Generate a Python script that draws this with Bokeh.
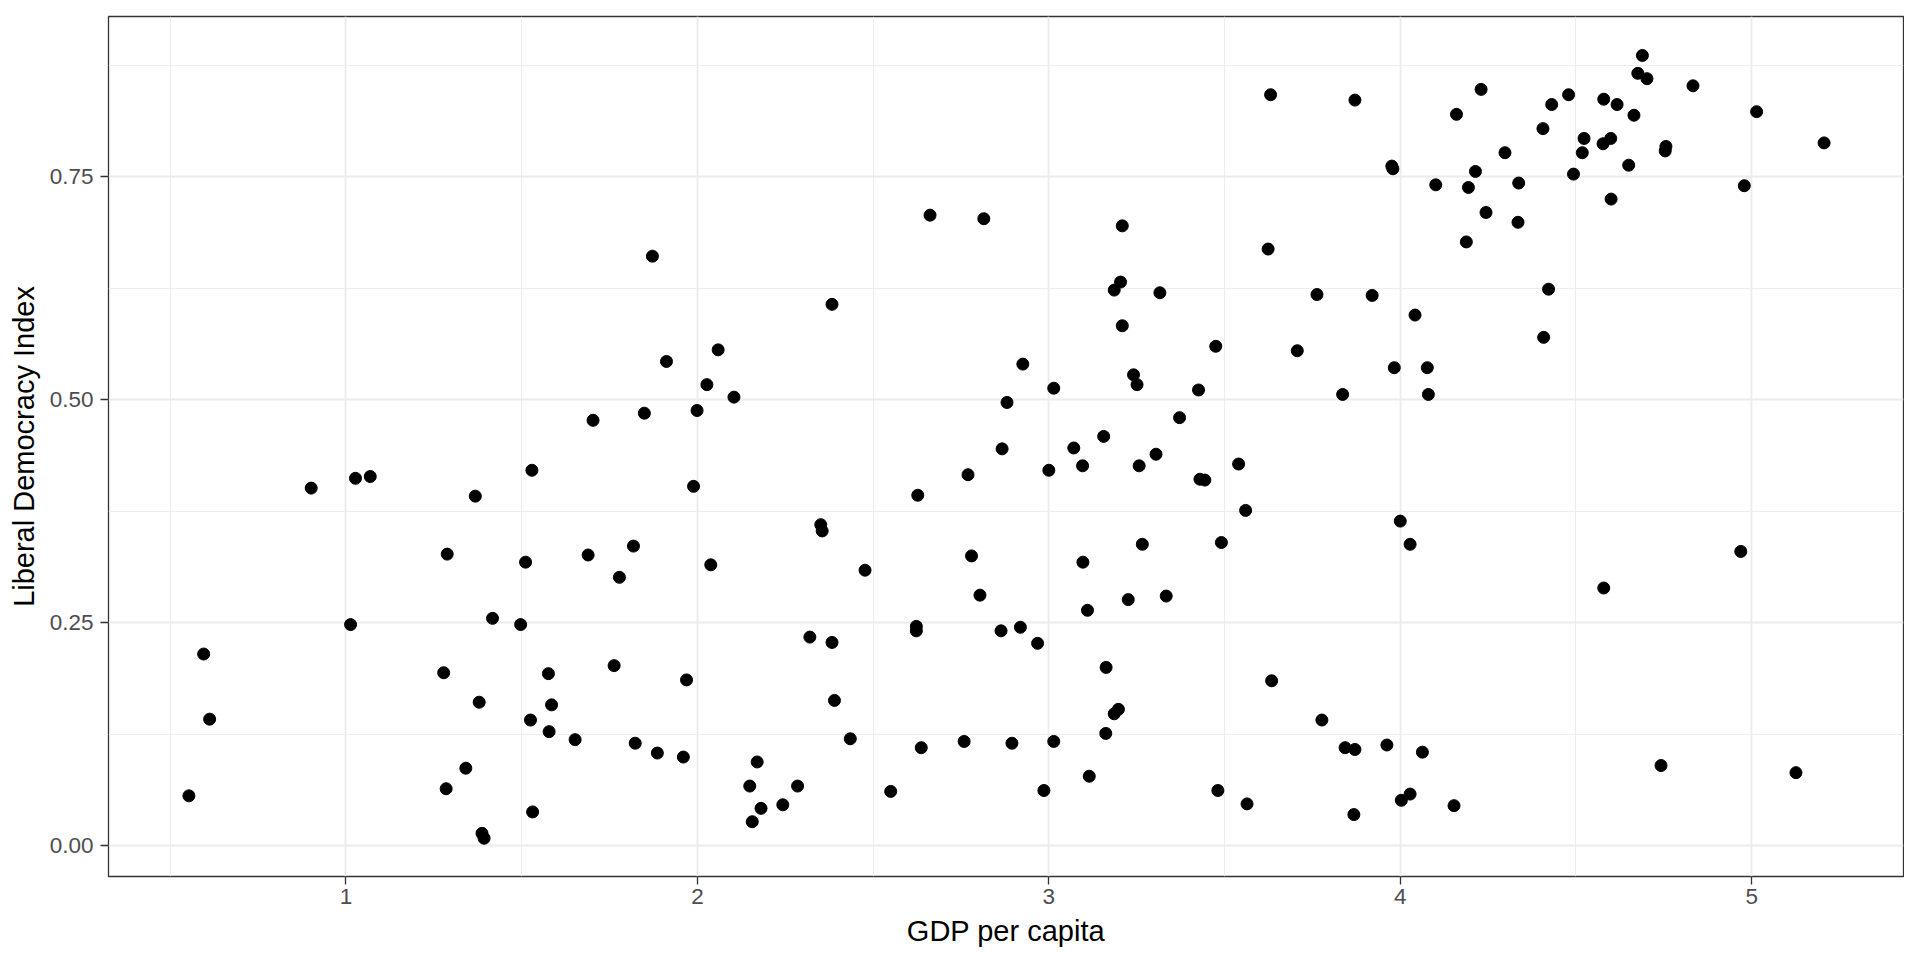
from bokeh.plotting import figure
from bokeh.models import Range1d, FixedTicker
from bokeh.embed import file_html
from bokeh.resources import INLINE

# GDP per capita (x) and Liberal Democracy Index (y)
gdp = [0.553, 0.595, 0.612, 0.901, 1.027, 1.069, 1.013, 1.278, 1.288, 1.285,
       1.341, 1.368, 1.379, 1.387, 1.393, 1.417, 1.497, 1.511, 1.529, 1.525,
       1.531, 1.576, 1.578, 1.585, 1.652, 1.689, 1.703, 1.763, 1.778, 1.818,
       1.823, 1.849, 1.872, 1.886, 1.912, 1.960, 1.969, 1.989, 1.999, 2.027,
       2.038, 2.059, 2.104, 2.149, 2.156, 2.170, 2.181, 2.243, 2.285, 2.320,
       2.351, 2.355, 2.383, 2.383, 2.390, 2.435, 2.477, 2.550, 2.623, 2.623,
       2.627, 2.637, 2.662, 2.759, 2.770, 2.780, 2.804, 2.815, 2.864, 2.867,
       2.881, 2.895, 2.919, 2.926, 2.968, 2.986, 3.000, 3.014, 3.014, 3.071,
       3.096, 3.097, 3.110, 3.115, 3.156, 3.163, 3.162, 3.186, 3.186, 3.198,
       3.204, 3.209, 3.209, 3.226, 3.241, 3.251, 3.257, 3.266, 3.305, 3.316,
       3.334, 3.372, 3.426, 3.430, 3.444, 3.475, 3.481, 3.491, 3.540, 3.560,
       3.564, 3.624, 3.631, 3.634, 3.707, 3.763, 3.777, 3.836, 3.843, 3.871,
       3.868, 3.871, 3.920, 3.962, 3.976, 3.979, 3.983, 4.000, 4.003, 4.028,
       4.028, 4.042, 4.063, 4.077, 4.080, 4.101, 4.153, 4.160, 4.188, 4.194,
       4.214, 4.230, 4.244, 4.298, 4.335, 4.337, 4.406, 4.408, 4.422, 4.431,
       4.479, 4.493, 4.523, 4.518, 4.579, 4.577, 4.579, 4.599, 4.600, 4.617,
       4.650, 4.665, 4.676, 4.689, 4.702, 4.742, 4.756, 4.754, 4.833, 4.969,
       4.979, 5.014, 5.126, 5.206]
ldi = [0.056, 0.215, 0.142, 0.401, 0.412, 0.414, 0.248, 0.194, 0.327, 0.064,
       0.087, 0.392, 0.161, 0.014, 0.0085, 0.255, 0.248, 0.318, 0.421, 0.141,
       0.038, 0.193, 0.128, 0.158, 0.119, 0.326, 0.477, 0.202, 0.301, 0.336,
       0.115, 0.485, 0.661, 0.104, 0.543, 0.0995, 0.186, 0.403, 0.488, 0.517,
       0.315, 0.556, 0.503, 0.067, 0.027, 0.094, 0.042, 0.046, 0.067, 0.234,
       0.360, 0.353, 0.228, 0.607, 0.163, 0.120, 0.309, 0.061, 0.246, 0.241,
       0.393, 0.110, 0.707, 0.117, 0.416, 0.325, 0.281, 0.703, 0.241, 0.445,
       0.497, 0.115, 0.245, 0.540, 0.227, 0.062, 0.421, 0.513, 0.117, 0.446,
       0.426, 0.318, 0.264, 0.078, 0.459, 0.200, 0.126, 0.623, 0.148, 0.153,
       0.632, 0.695, 0.583, 0.276, 0.528, 0.517, 0.426, 0.338, 0.439, 0.620,
       0.280, 0.480, 0.511, 0.411, 0.410, 0.560, 0.062, 0.340, 0.428, 0.376,
       0.047, 0.669, 0.842, 0.185, 0.555, 0.618, 0.141, 0.506, 0.110, 0.836,
       0.035, 0.108, 0.617, 0.113, 0.762, 0.759, 0.536, 0.364, 0.051, 0.338,
       0.058, 0.595, 0.105, 0.536, 0.506, 0.741, 0.045, 0.820, 0.677, 0.738,
       0.756, 0.848, 0.710, 0.777, 0.699, 0.743, 0.804, 0.570, 0.624, 0.831,
       0.842, 0.753, 0.793, 0.777, 0.837, 0.787, 0.289, 0.793, 0.725, 0.831,
       0.763, 0.819, 0.866, 0.886, 0.860, 0.090, 0.784, 0.779, 0.852, 0.330,
       0.740, 0.823, 0.082, 0.788]

x_ticks = [1, 2, 3, 4, 5]
x_tick_labels = ["1", "2", "3", "4", "5"]
x_minor = [0.5, 1.5, 2.5, 3.5, 4.5]
y_ticks = [0.0, 0.25, 0.5, 0.75]
y_tick_labels = ["0.00", "0.25", "0.50", "0.75"]
y_minor = [0.125, 0.375, 0.625, 0.875]

FONT = "Liberation Sans"

p = figure(width=1904, height=944, output_backend="svg", toolbar_location=None,
           x_range=Range1d(0.3242, 5.432), y_range=Range1d(-0.0344, 0.9297),
           frame_width=1795, frame_height=860,
           min_border_left=108, min_border_right=1, min_border_top=16, min_border_bottom=68,
           background_fill_color="white", border_fill_color="white")

p.outline_line_color = "#333333"
p.outline_line_width = 1.3

p.xaxis.ticker = FixedTicker(ticks=x_ticks, minor_ticks=x_minor)
p.yaxis.ticker = FixedTicker(ticks=y_ticks, minor_ticks=y_minor)
p.xaxis.major_label_overrides = {t: l for t, l in zip(x_ticks, x_tick_labels)}
p.yaxis.major_label_overrides = {t: l for t, l in zip(y_ticks, y_tick_labels)}

p.xaxis.axis_label = "GDP per capita"
p.yaxis.axis_label = "Liberal Democracy Index"

for ax in (p.xaxis, p.yaxis):
    ax.axis_line_color = None
    ax.major_tick_line_color = "#333333"
    ax.major_tick_line_width = 1.3
    ax.major_tick_in = 0
    ax.major_tick_out = 8
    ax.minor_tick_line_color = None
    ax.major_label_text_font = FONT
    ax.major_label_text_font_size = "22.5px"
    ax.major_label_text_color = "#4D4D4D"
    ax.axis_label_text_font = FONT
    ax.axis_label_text_font_size = "29px"
    ax.axis_label_text_font_style = "normal"
    ax.axis_label_text_color = "black"

p.xaxis.major_label_standoff = 4
p.yaxis.major_label_standoff = 7
p.xaxis.axis_label_standoff = 8
p.yaxis.axis_label_standoff = 7

for g in (p.xgrid, p.ygrid):
    g.grid_line_color = "#EBEBEB"
    g.grid_line_width = 1.8
    g.minor_grid_line_color = "#EBEBEB"
    g.minor_grid_line_width = 0.9

p.scatter(gdp, ldi, size=12, color="black", line_color="black")

open("out.html", "w").write(file_html(p, INLINE))
